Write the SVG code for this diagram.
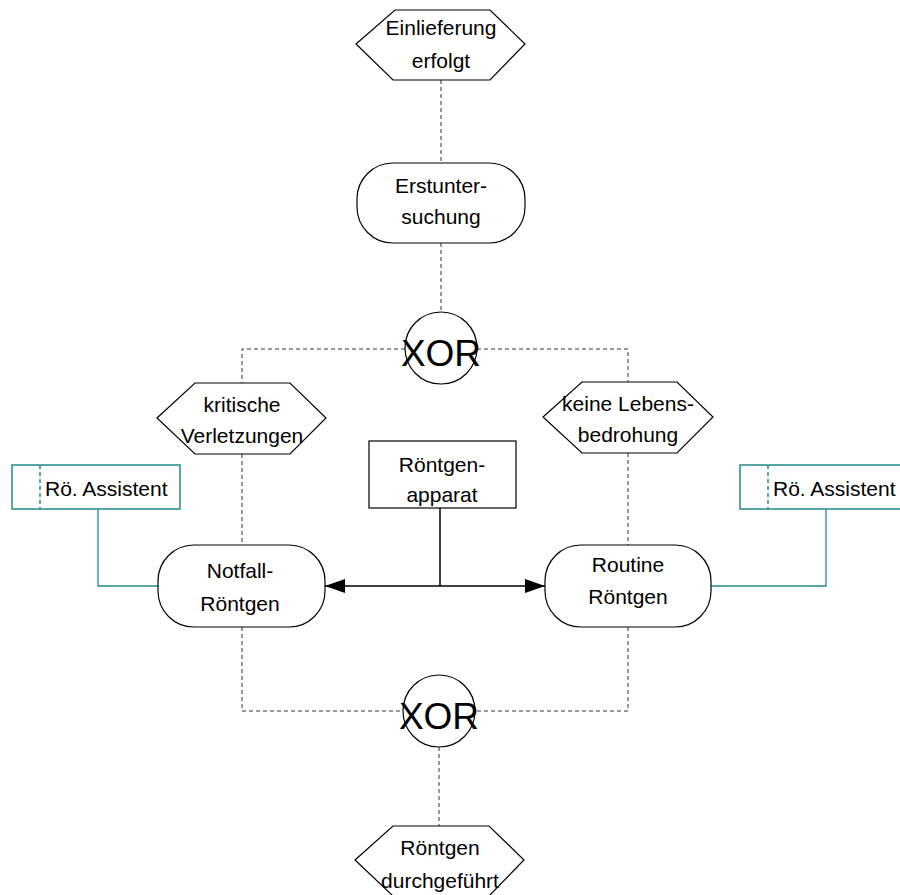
<svg xmlns="http://www.w3.org/2000/svg" width="900" height="895" viewBox="0 0 900 895">
  <style>
    .shape { fill: #ffffff; stroke: #000000; stroke-width: 1.2; }
    .lbl { font-family: "Liberation Sans", Arial, Helvetica, sans-serif; font-size: 21px; fill: #000000; text-anchor: middle; }
    .lbl-l { font-family: "Liberation Sans", Arial, Helvetica, sans-serif; font-size: 21px; fill: #000000; }
    .xor { font-family: "Liberation Sans", Arial, Helvetica, sans-serif; font-size: 37px; fill: #000000; text-anchor: middle; }
    .flow { fill: none; stroke: #333333; stroke-width: 1; stroke-dasharray: 4 3; }
    .org { fill: #ffffff; stroke: #1f8a8a; stroke-width: 1.5; }
    .org-sep { stroke: #1f8a8a; stroke-width: 1.5; stroke-dasharray: 4 3; }
    .org-link { fill: none; stroke: #1f8a8a; stroke-width: 1.3; }
    .res { fill: none; stroke: #000000; stroke-width: 1.5; }
  </style>
  <defs>
    <marker id="arrow" viewBox="0 0 20 14" refX="20" refY="7" markerWidth="20" markerHeight="14" markerUnits="userSpaceOnUse" orient="auto">
      <path d="M0,0 L20,7 L0,14 Z" fill="#000000"/>
    </marker>
  </defs>

  <rect width="900" height="895" fill="#ffffff"/>

  <!-- connectors -->
  <g id="connectors">
    <line class="flow" x1="441" y1="80" x2="441" y2="163"/>
    <line class="flow" x1="441" y1="243" x2="441" y2="312"/>
    <polyline class="flow" points="405,349 242,349 242,383"/>
    <polyline class="flow" points="477,349 628,349 628,382"/>
    <line class="flow" x1="242" y1="454" x2="242" y2="545"/>
    <line class="flow" x1="628" y1="453" x2="628" y2="545"/>
    <polyline class="flow" points="242,627 242,711 403,711"/>
    <polyline class="flow" points="628,627 628,711 475,711"/>
    <line class="flow" x1="439" y1="747" x2="439" y2="826"/>
    <!-- resource links -->
    <line class="res" x1="440" y1="508" x2="440" y2="586"/>
    <line class="res" x1="440" y1="586" x2="325" y2="586" marker-end="url(#arrow)"/>
    <line class="res" x1="440" y1="586" x2="545" y2="586" marker-end="url(#arrow)"/>
    <!-- organisational links -->
    <polyline class="org-link" points="98,509 98,586 158,586"/>
    <polyline class="org-link" points="826,509 826,586 711,586"/>
  </g>

  <!-- events -->
  <g id="ev-einlieferung">
    <polygon class="shape" points="356,44 395,10 490,10 525,44 490,80 393,80"/>
    <text class="lbl" x="441" y="35">Einlieferung</text>
    <text class="lbl" x="441" y="68">erfolgt</text>
  </g>

  <g id="fn-erstuntersuchung">
    <rect class="shape" x="357" y="163" width="168" height="80" rx="36" ry="36"/>
    <text class="lbl" x="441" y="193">Erstunter-</text>
    <text class="lbl" x="441" y="224">suchung</text>
  </g>

  <g id="xor-split">
    <circle class="shape" cx="441" cy="348" r="36"/>
    <text class="xor" x="441" y="366">XOR</text>
  </g>

  <g id="ev-kritisch">
    <polygon class="shape" points="157,418 195,383 290,383 326,418 290,454 195,454"/>
    <text class="lbl" x="242" y="412">kritische</text>
    <text class="lbl" x="242" y="443">Verletzungen</text>
  </g>

  <g id="ev-keine">
    <polygon class="shape" points="543,417 582,382 677,382 713,417 677,453 582,453"/>
    <text class="lbl" x="628" y="411">keine Lebens-</text>
    <text class="lbl" x="628" y="442">bedrohung</text>
  </g>

  <g id="res-apparat">
    <rect class="shape" x="369" y="441" width="147" height="67"/>
    <text class="lbl" x="442" y="472">Röntgen-</text>
    <text class="lbl" x="442" y="502">apparat</text>
  </g>

  <g id="org-left">
    <rect class="org" x="12" y="465" width="168" height="44"/>
    <line class="org-sep" x1="40" y1="465" x2="40" y2="509"/>
    <text class="lbl-l" x="45" y="496">Rö. Assistent</text>
  </g>

  <g id="org-right">
    <rect class="org" x="740" y="465" width="170" height="44"/>
    <line class="org-sep" x1="768" y1="465" x2="768" y2="509"/>
    <text class="lbl-l" x="773" y="496">Rö. Assistent</text>
  </g>

  <g id="fn-notfall">
    <rect class="shape" x="158" y="545" width="167" height="82" rx="36" ry="36"/>
    <text class="lbl" x="240" y="578">Notfall-</text>
    <text class="lbl" x="240" y="611">Röntgen</text>
  </g>

  <g id="fn-routine">
    <rect class="shape" x="545" y="545" width="166" height="82" rx="36" ry="36"/>
    <text class="lbl" x="628" y="572">Routine</text>
    <text class="lbl" x="628" y="604">Röntgen</text>
  </g>

  <g id="xor-join">
    <circle class="shape" cx="439" cy="711" r="36"/>
    <text class="xor" x="439" y="729">XOR</text>
  </g>

  <g id="ev-durchgefuehrt">
    <polygon class="shape" points="355,860 393,826 489,826 524,860 489,896 393,896"/>
    <text class="lbl" x="440" y="855">Röntgen</text>
    <text class="lbl" x="440" y="888">durchgeführt</text>
  </g>
</svg>
